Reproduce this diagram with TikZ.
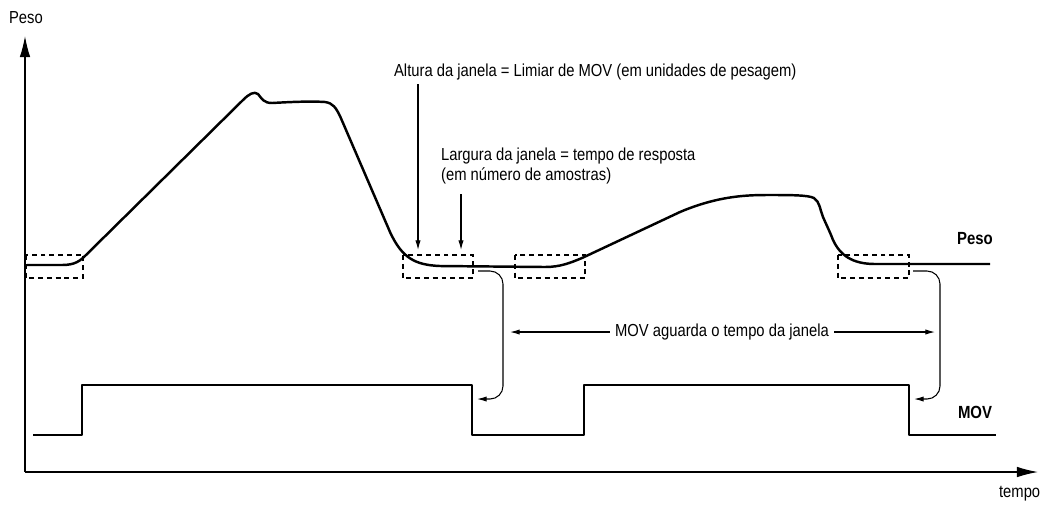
\documentclass[tikz,border=0pt]{standalone}
\usepackage{fontspec}
\setmainfont{Liberation Sans}[FakeStretch=0.85]
\usetikzlibrary{arrows.meta}
\tikzset{>={Latex[length=5.5pt,width=3pt]}}
\tikzset{
  signal/.style={line width=1.4pt, line join=round},
  window/.style={dashed, line width=0.65pt, dash pattern=on 2.8pt off 2.2pt},
  axis/.style={line width=0.7pt, -{Latex[length=12pt,width=6pt]}},
  lbl/.style={font=\fontsize{9.9}{11.5}\selectfont, inner sep=1pt},
  bold lbl/.style={font=\fontsize{10}{12}\selectfont\bfseries, inner sep=1pt}
}

\begin{document}
\begin{tikzpicture}[x=0.02cm, y=-0.02cm]
\useasboundingbox (0,0) rectangle (1043,505);
% axes
\coordinate (o) at (25,472);
\coordinate (ytop) at (25,36);
\coordinate (xend) at (1038,472);
\draw[axis] (o) -- (ytop);
\draw[axis] (o) -- (xend);
\node[lbl, anchor=west] (ylab) at (7,18) {Peso};
\node[lbl, anchor=west] (xlab) at (997,494) {tempo};
% weight
\draw[signal] (27,265) -- (62,265) .. controls (75,265) and (80,261) .. (86,255)
  -- (243,100) .. controls (249,94) and (254,91) .. (258,94)
  .. controls (262,99) and (264,103) .. (272,103)
  .. controls (290,102) and (310,101) .. (325,102)
  .. controls (333,103) and (336,108) .. (340,116)
  -- (390,232) .. controls (402,258) and (415,265) .. (440,266)
  -- (545,267) .. controls (560,267) and (570,263) .. (582,258)
  -- (680,212) .. controls (720,195) and (750,195) .. (770,195)
  .. controls (790,195) and (808,195) .. (814,198)
  .. controls (820,202) and (820,210) .. (823,217)
  .. controls (826,224) and (830,232) .. (833,240)
  .. controls (840,255) and (852,264) .. (875,264) -- (990,264);
\node[bold lbl] (peso) at (975,239) {Peso};
% windows
\draw[window] (26,255) rectangle (83,278);
\draw[window] (403,255) rectangle (473,278);
\draw[window] (515,255) rectangle (585,278);
\draw[window] (838,255) rectangle (909,278);
% MOV
\draw[signal] (33,435) -- (82,435) -- (82,385) -- (472,385) -- (472,435)
  -- (584,435) -- (584,385) -- (909,385) -- (909,435) -- (996,435);
\node[bold lbl] (mov) at (975,412) {MOV};
% annotations
\node[lbl, anchor=west] (altura) at (392,72) {Altura da janela = Limiar de MOV (em unidades de pesagem)};
\node[lbl, anchor=west, align=left] (largura) at (439,166) {Largura da janela = tempo de resposta\\(em número de amostras)};
\coordinate (hgt) at (418,250);
\coordinate (wid) at (461,250);
\draw[->, line width=0.6pt] (hgt |- altura.south) ++(0,2) -- (hgt);
\draw[->, line width=0.6pt] (wid |- largura.south) ++(0,8) -- (wid);
% waiting time
\node[lbl, inner sep=3pt] (wait) at (722,332) {MOV aguarda o tempo da janela};
\coordinate (wl) at (510,332);
\coordinate (wr) at (935,332);
\draw[->, line width=0.6pt] (wait.west) -- (wl);
\draw[->, line width=0.6pt] (wait.east) -- (wr);
\coordinate (d1) at (478,271);
\coordinate (d2) at (913,271);
\draw[->, line width=0.6pt, rounded corners=0.26cm] (d1) -- ++(25,0) -- ++(0,128) -- ++(-26,0);
\draw[->, line width=0.6pt, rounded corners=0.26cm] (d2) -- ++(27,0) -- ++(0,128) -- ++(-26,0);
\end{tikzpicture}
\end{document}
